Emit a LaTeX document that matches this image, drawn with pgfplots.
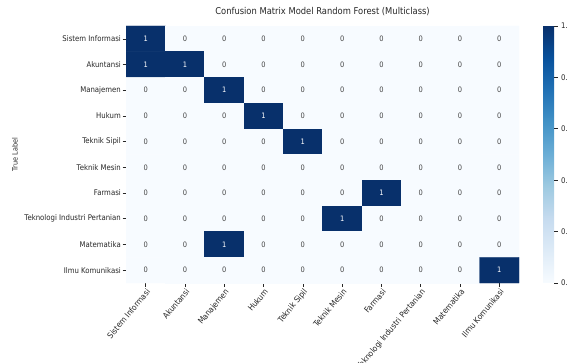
\documentclass[border=0pt]{standalone}
\usepackage{pgfplots}
\usepackage{pgfplotstable}
\pgfplotsset{compat=1.18}
\usepackage{fontspec}
\setmainfont{DejaVu Sans}[FakeStretch=0.89]
\definecolor{txtgray}{RGB}{70,70,70}
\definecolor{lblcol}{RGB}{38,38,38}
\pgfplotsset{colormap={blues}{rgb255=(247,251,255) rgb255=(222,235,247) rgb255=(198,219,239) rgb255=(158,202,225) rgb255=(107,174,214) rgb255=(66,146,198) rgb255=(33,113,181) rgb255=(8,81,156) rgb255=(8,48,107)}}
\pgfplotstableread[row sep=\\]{
x y c\\
0 0 1\\ 1 0 0\\ 2 0 0\\ 3 0 0\\ 4 0 0\\ 5 0 0\\ 6 0 0\\ 7 0 0\\ 8 0 0\\ 9 0 0\\
0 1 1\\ 1 1 1\\ 2 1 0\\ 3 1 0\\ 4 1 0\\ 5 1 0\\ 6 1 0\\ 7 1 0\\ 8 1 0\\ 9 1 0\\
0 2 0\\ 1 2 0\\ 2 2 1\\ 3 2 0\\ 4 2 0\\ 5 2 0\\ 6 2 0\\ 7 2 0\\ 8 2 0\\ 9 2 0\\
0 3 0\\ 1 3 0\\ 2 3 0\\ 3 3 1\\ 4 3 0\\ 5 3 0\\ 6 3 0\\ 7 3 0\\ 8 3 0\\ 9 3 0\\
0 4 0\\ 1 4 0\\ 2 4 0\\ 3 4 0\\ 4 4 1\\ 5 4 0\\ 6 4 0\\ 7 4 0\\ 8 4 0\\ 9 4 0\\
0 5 0\\ 1 5 0\\ 2 5 0\\ 3 5 0\\ 4 5 0\\ 5 5 0\\ 6 5 0\\ 7 5 0\\ 8 5 0\\ 9 5 0\\
0 6 0\\ 1 6 0\\ 2 6 0\\ 3 6 0\\ 4 6 0\\ 5 6 0\\ 6 6 1\\ 7 6 0\\ 8 6 0\\ 9 6 0\\
0 7 0\\ 1 7 0\\ 2 7 0\\ 3 7 0\\ 4 7 0\\ 5 7 1\\ 6 7 0\\ 7 7 0\\ 8 7 0\\ 9 7 0\\
0 8 0\\ 1 8 0\\ 2 8 1\\ 3 8 0\\ 4 8 0\\ 5 8 0\\ 6 8 0\\ 7 8 0\\ 8 8 0\\ 9 8 0\\
0 9 0\\ 1 9 0\\ 2 9 0\\ 3 9 0\\ 4 9 0\\ 5 9 0\\ 6 9 0\\ 7 9 0\\ 8 9 0\\ 9 9 1\\
}\cm
\begin{document}
\begin{tikzpicture}
\path[use as bounding box] (0,0) rectangle (567pt,363pt);
\begin{axis}[
  at={(126pt,80pt)}, anchor=south west,
  scale only axis, width=393pt, height=257pt,
  xmin=-0.5, xmax=9.5, ymin=-0.5, ymax=9.5,
  y dir=reverse,
  colormap name=blues,
  point meta min=0, point meta max=1,
  axis line style={draw=none},
  tick align=outside, major tick length=3.5pt,
  tick style={lblcol, line width=0.6pt},
  xtick={0,...,9}, ytick={0,...,9},
  xtick pos=bottom, ytick pos=left,
  xticklabels={Sistem Informasi,Akuntansi,Manajemen,Hukum,Teknik Sipil,Teknik Mesin,Farmasi,Teknologi Industri Pertanian,Matematika,Ilmu Komunikasi},
  yticklabels={Sistem Informasi,Akuntansi,Manajemen,Hukum,Teknik Sipil,Teknik Mesin,Farmasi,Teknologi Industri Pertanian,Matematika,Ilmu Komunikasi},
  xticklabel style={rotate=50, anchor=north east, font=\fontsize{8.2}{9}\selectfont, text=lblcol, inner sep=1pt},
  yticklabel style={font=\fontsize{7.8}{9}\selectfont, text=lblcol, inner sep=1.5pt},
  title={Confusion Matrix Model Random Forest (Multiclass)},
  title style={font=\fontsize{9.4}{11}\selectfont, text=lblcol, at={(0.5,1)}, anchor=south, yshift=0.5pt},
  ylabel={True Label},
  ylabel style={font=\fontsize{7.3}{8}\selectfont, text=lblcol, at={(rel axis cs:-0.2824,0.5)}, anchor=center},
  colorbar,
  colorbar style={
    at={(parent axis.north east)}, anchor=north west, xshift=15.5pt,
    scale only axis, width=11pt, height=257pt,
    axis line style={draw=none},
    ytick={0,0.2,0.4,0.6,0.8,1.0},
    yticklabel pos=right, ytick pos=right,
    tick align=outside, major tick length=3.5pt,
    tick style={lblcol, line width=0.6pt},
    yticklabel style={font=\fontsize{7.8}{9}\selectfont, text=lblcol, /pgf/number format/fixed, /pgf/number format/fixed zerofill, /pgf/number format/precision=1, /pgf/number format/assume math mode=true},
  },
]
\addplot[matrix plot*, mesh/cols=10, point meta=explicit] table[x=x, y=y, meta=c] {\cm};
\addplot[only marks, mark=none, point meta=explicit,
  nodes near coords={\ifdim\pgfplotspointmetatransformed pt>500pt \textcolor{white}{1}\else\textcolor{txtgray}{0}\fi},
  nodes near coords align={center},
  every node near coord/.append style={font=\fontsize{7.5}{8}\selectfont, anchor=center}]
  table[x=x, y=y, meta=c] {\cm};
\end{axis}
\end{tikzpicture}
\end{document}
